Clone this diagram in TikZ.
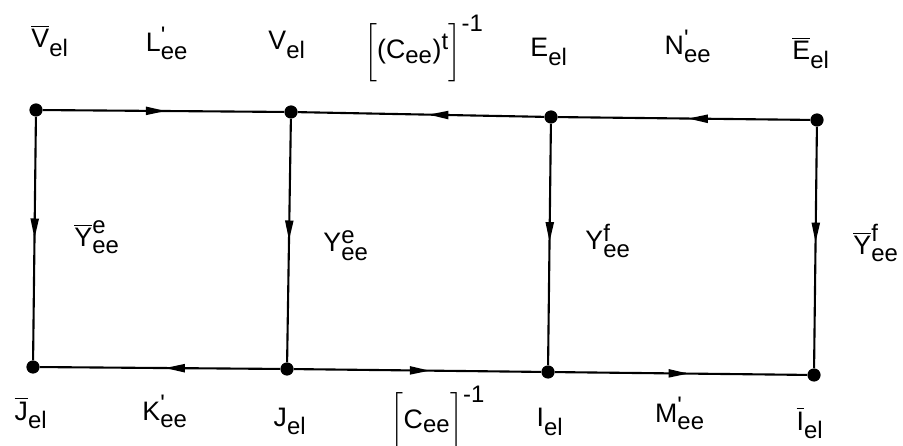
\documentclass[tikz,border=0pt]{standalone}
\usepackage{amsmath}
\usepackage{fontspec}
\setmainfont{Liberation Sans}
\usetikzlibrary{arrows.meta,decorations.markings}
\DeclareMathSizes{19}{19}{17}{14}

\begin{document}
\begin{tikzpicture}[
    x=0.025cm, y=-0.025cm,
    font=\fontsize{19}{22}\selectfont,
    junction/.style={circle, fill=black, inner sep=0pt, minimum size=3.3mm},
    branch/.style={
        line width=1.5pt,
        postaction={decorate},
        decoration={markings,
            mark=at position #1 with {\arrow{Triangle[length=5mm,width=2mm]}}}
    },
    branch/.default=0.5,
    lbl/.style={anchor=base, inner sep=0pt}
]
\useasboundingbox (0,0) rectangle (903,446);

% =========================================================
% Junctions
% =========================================================
\node[junction] (Vb) at (36,110) {};
\node[junction] (V)  at (291,112) {};
\node[junction] (E)  at (551,117) {};
\node[junction] (Eb) at (817,120) {};

\node[junction] (Jb) at (33,367) {};
\node[junction] (J)  at (287,369) {};
\node[junction] (I)  at (548,372) {};
\node[junction] (Ib) at (814,375) {};

% =========================================================
% Branches
% =========================================================

% top
\draw[branch=0.51] (Vb) -- (V);
\draw[branch=0.47] (E) -- (V);
\draw[branch=0.485] (Eb) -- (E);

% bottom
\draw[branch=0.48] (J) -- (Jb);
\draw[branch=0.55] (J) -- (I);
\draw[branch=0.53] (I) -- (Ib);

% verticals
\draw[branch=0.5] (Vb) -- (Jb);
\draw[branch=0.5] (V) -- (J);
\draw[branch=0.49] (E) -- (I);
\draw[branch=0.48] (Eb) -- (Ib);

% =========================================================
% Labels
% =========================================================

% top row
\node[lbl] (lVb) at (50,48) {$\overline{\mathrm{V}}_{\mathrm{el}}$};
\node[lbl] (lL)  at (167,52) {$\mathrm{L}^{\text{\textquotesingle}}_{\mathrm{ee}}$};
\node[lbl] (lV)  at (287,50) {$\mathrm{V}_{\mathrm{el}}$};
\node[lbl] (lCt) at (424,59)
    {$\left[\vrule height 26pt depth 10pt width 0pt\text{(}\mathrm{C}_{\mathrm{ee}}\text{)}^{\mathrm{t}}\right]^{\text{-1}}$};
\node[lbl] (lE)  at (549,57) {$\mathrm{E}_{\mathrm{el}}$};
\node[lbl] (lN)  at (688,55) {$\mathrm{N}^{\text{\textquotesingle}}_{\mathrm{ee}}$};
\node[lbl] (lEb) at (811,60) {$\overline{\mathrm{E}}_{\mathrm{el}}$};

% bottom row
\node[lbl] (lJb) at (31,420) {$\overline{\mathrm{J}}_{\mathrm{el}}$};
\node[lbl] (lK)  at (165,420) {$\mathrm{K}^{\text{\textquotesingle}}_{\mathrm{ee}}$};
\node[lbl] (lJ)  at (290,426) {$\mathrm{J}_{\mathrm{el}}$};
\node[lbl] (lC)  at (438,428)
    {$\left[\vrule height 23pt depth 9pt width 0pt\mathrm{C}_{\mathrm{ee}}\right]^{\text{-1}}$};
\node[lbl] (lI)  at (550,427) {$\mathrm{I}_{\mathrm{el}}$};
\node[lbl] (lM)  at (680,422) {$\mathrm{M}^{\text{\textquotesingle}}_{\mathrm{ee}}$};
\node[lbl] (lIb) at (810,430) {$\overline{\mathrm{I}}_{\mathrm{el}}$};

% meshes
\node[lbl] (lYbe) at (97,247)  {$\overline{\mathrm{Y}}^{\mathrm{e}}_{\mathrm{ee}}$};
\node[lbl] (lYe)  at (346,252) {$\mathrm{Y}^{\mathrm{e}}_{\mathrm{ee}}$};
\node[lbl] (lYf)  at (608,250) {$\mathrm{Y}^{\mathrm{f}}_{\mathrm{ee}}$};
\node[lbl] (lYbf) at (876,255) {$\overline{\mathrm{Y}}^{\mathrm{f}}_{\mathrm{ee}}$};

\end{tikzpicture}
\end{document}
